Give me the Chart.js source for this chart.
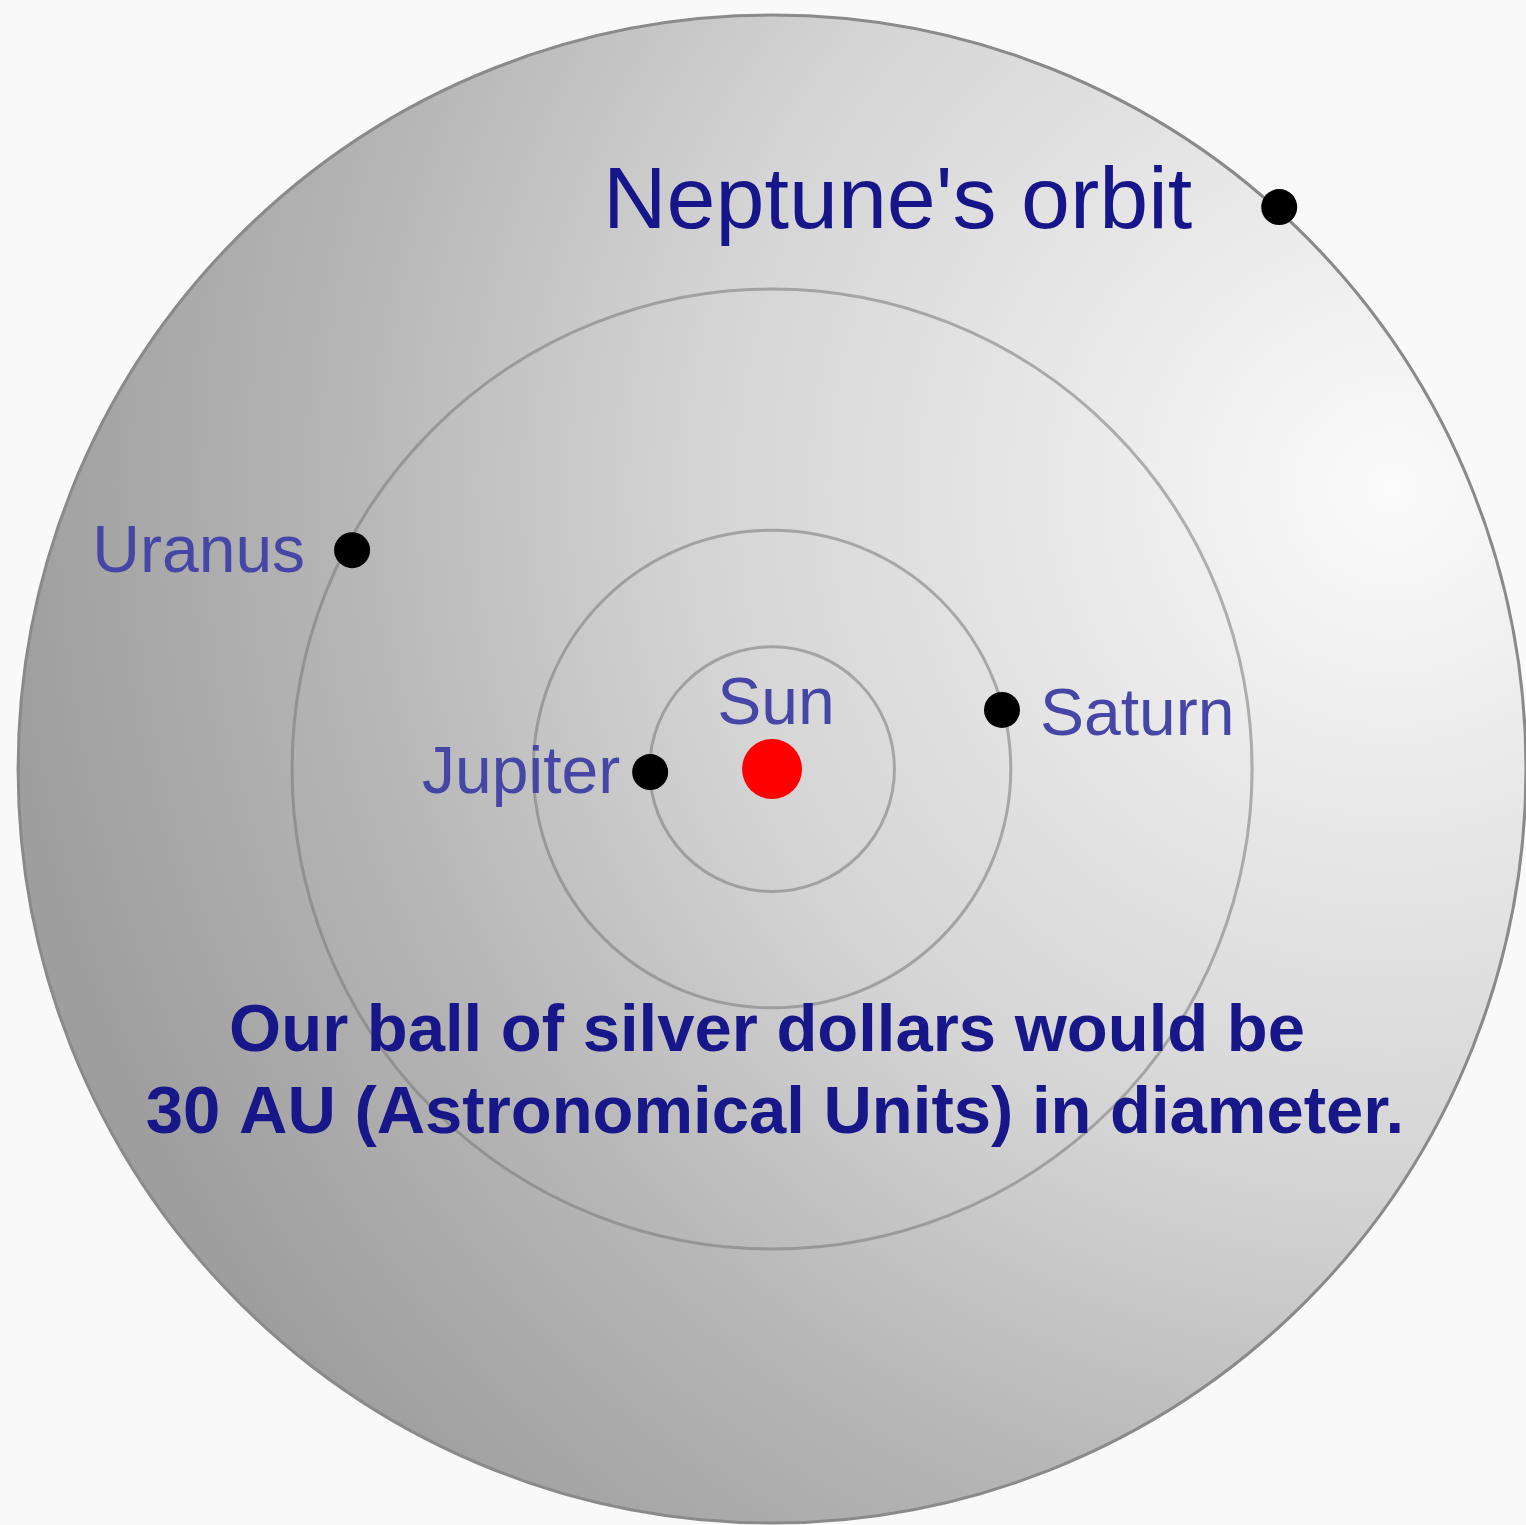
<!DOCTYPE html>
<html>
<head>
<meta charset="utf-8">
<script src="https://cdn.jsdelivr.net/npm/chart.js@4.4.1/dist/chart.umd.min.js"></script>
<style>
  html, body { margin: 0; padding: 0; background: #f9f9f9; }
  canvas { display: block; }
</style>
</head>
<body>
<canvas id="grafico-orbitas" width="1526" height="1525"></canvas>
<script>
// positions in AU (Sun at the origin)
const planetas = ['Jupiter', 'Saturn', 'Uranus', "Neptune's orbit"];
const planetasX = [-4.85, 9.15, -16.71, 20.18];
const planetasY = [-0.12, 2.35, 8.71, 22.36];
const orbitas = [4.87, 9.5, 19.1, 30];
const sol = { nome: 'Sun', x: 0, y: 0 };
const legenda = ['Our ball of silver dollars would be', '30 AU (Astronomical Units) in diameter.'];

// label placement next to each dot (pixels)
const rotulos = {
    'Jupiter': { dx: -30, dy: 21, align: 'right', size: 66, color: '#4646a6' },
    'Saturn': { dx: 38, dy: 25, align: 'left', size: 66, color: '#4646a6' },
    'Uranus': { dx: -47, dy: 22, align: 'right', size: 66, color: '#4646a6' },
    "Neptune's orbit": { dx: -87, dy: 21, align: 'right', size: 88, color: '#16168a' },
    'Sun': { dx: 4, dy: -45, align: 'center', size: 66, color: '#4646a6' }
};

const discoPlugin = {
    id: 'disco',
    beforeDatasetsDraw(chart) {
        const ctx = chart.ctx;
        const sx = chart.scales.x, sy = chart.scales.y;
        const cx = sx.getPixelForValue(0), cy = sy.getPixelForValue(0);
        const escala = sx.getPixelForValue(1) - cx;
        const rNeptuno = orbitas[orbitas.length - 1] * escala;

        ctx.save();
        const grad = ctx.createRadialGradient(cx + 620, cy - 280, 0, cx + 620, cy - 280, 1400);
        grad.addColorStop(0, '#fbfbfb');
        grad.addColorStop(0.15, '#efefef');
        grad.addColorStop(0.5, '#d4d4d4');
        grad.addColorStop(0.75, '#b6b6b6');
        grad.addColorStop(1, '#9e9e9e');
        ctx.beginPath();
        ctx.arc(cx, cy, rNeptuno, 0, Math.PI * 2);
        ctx.fillStyle = grad;
        ctx.fill();
        ctx.lineWidth = 3;
        ctx.strokeStyle = '#8a8a8a';
        ctx.stroke();

        ctx.lineWidth = 3;
        ctx.strokeStyle = 'rgba(120,120,120,0.55)';
        orbitas.slice(0, -1).forEach(function(r) {
            ctx.beginPath();
            ctx.arc(cx, cy, r * escala, 0, Math.PI * 2);
            ctx.stroke();
        });
        ctx.restore();
    },
    afterDatasetsDraw(chart) {
        const ctx = chart.ctx;
        ctx.save();
        ctx.textBaseline = 'alphabetic';
        chart.data.datasets.forEach(function(ds, i) {
            const meta = chart.getDatasetMeta(i);
            meta.data.forEach(function(pt, j) {
                const nome = ds.data[j].nome;
                const r = rotulos[nome];
                ctx.font = r.size + 'px "Liberation Sans", Arial, sans-serif';
                ctx.fillStyle = r.color;
                ctx.textAlign = r.align;
                ctx.fillText(nome, pt.x + r.dx, pt.y + r.dy);
            });
        });

        const cx = chart.scales.x.getPixelForValue(0);
        const cy = chart.scales.y.getPixelForValue(0);
        ctx.font = 'bold 67px "Liberation Sans", Arial, sans-serif';
        ctx.fillStyle = '#17178a';
        ctx.textAlign = 'center';
        ctx.fillText(legenda[0], cx - 5, cy + 282);
        ctx.fillText(legenda[1], cx + 3, cy + 364);
        ctx.restore();
    }
};

const ctx = document.getElementById('grafico-orbitas').getContext('2d');
const MyChart = new Chart(ctx, {
    type: 'scatter',
    data: {
        datasets: [{
            label: 'Planets',
            data: planetas.map(function(n, i) {
                return { x: planetasX[i], y: planetasY[i], nome: n };
            }),
            pointRadius: 18,
            pointBorderWidth: 0,
            backgroundColor: '#000000',
            borderColor: '#000000'
        }, {
            label: 'Sun',
            data: [{ x: sol.x, y: sol.y, nome: sol.nome }],
            pointRadius: 30,
            pointBorderWidth: 0,
            backgroundColor: '#ff0000',
            borderColor: '#ff0000'
        }]
    },
    options: {
        responsive: false,
        animation: false,
        layout: { padding: 0, autoPadding: false },
        plugins: {
            legend: { display: false },
            tooltip: { enabled: false }
        },
        scales: {
            x: { type: 'linear', min: -30.72, max: 30.0, display: false },
            y: { type: 'linear', min: -30.08, max: 30.6, display: false }
        }
    },
    plugins: [discoPlugin]
});
</script>
</body>
</html>
